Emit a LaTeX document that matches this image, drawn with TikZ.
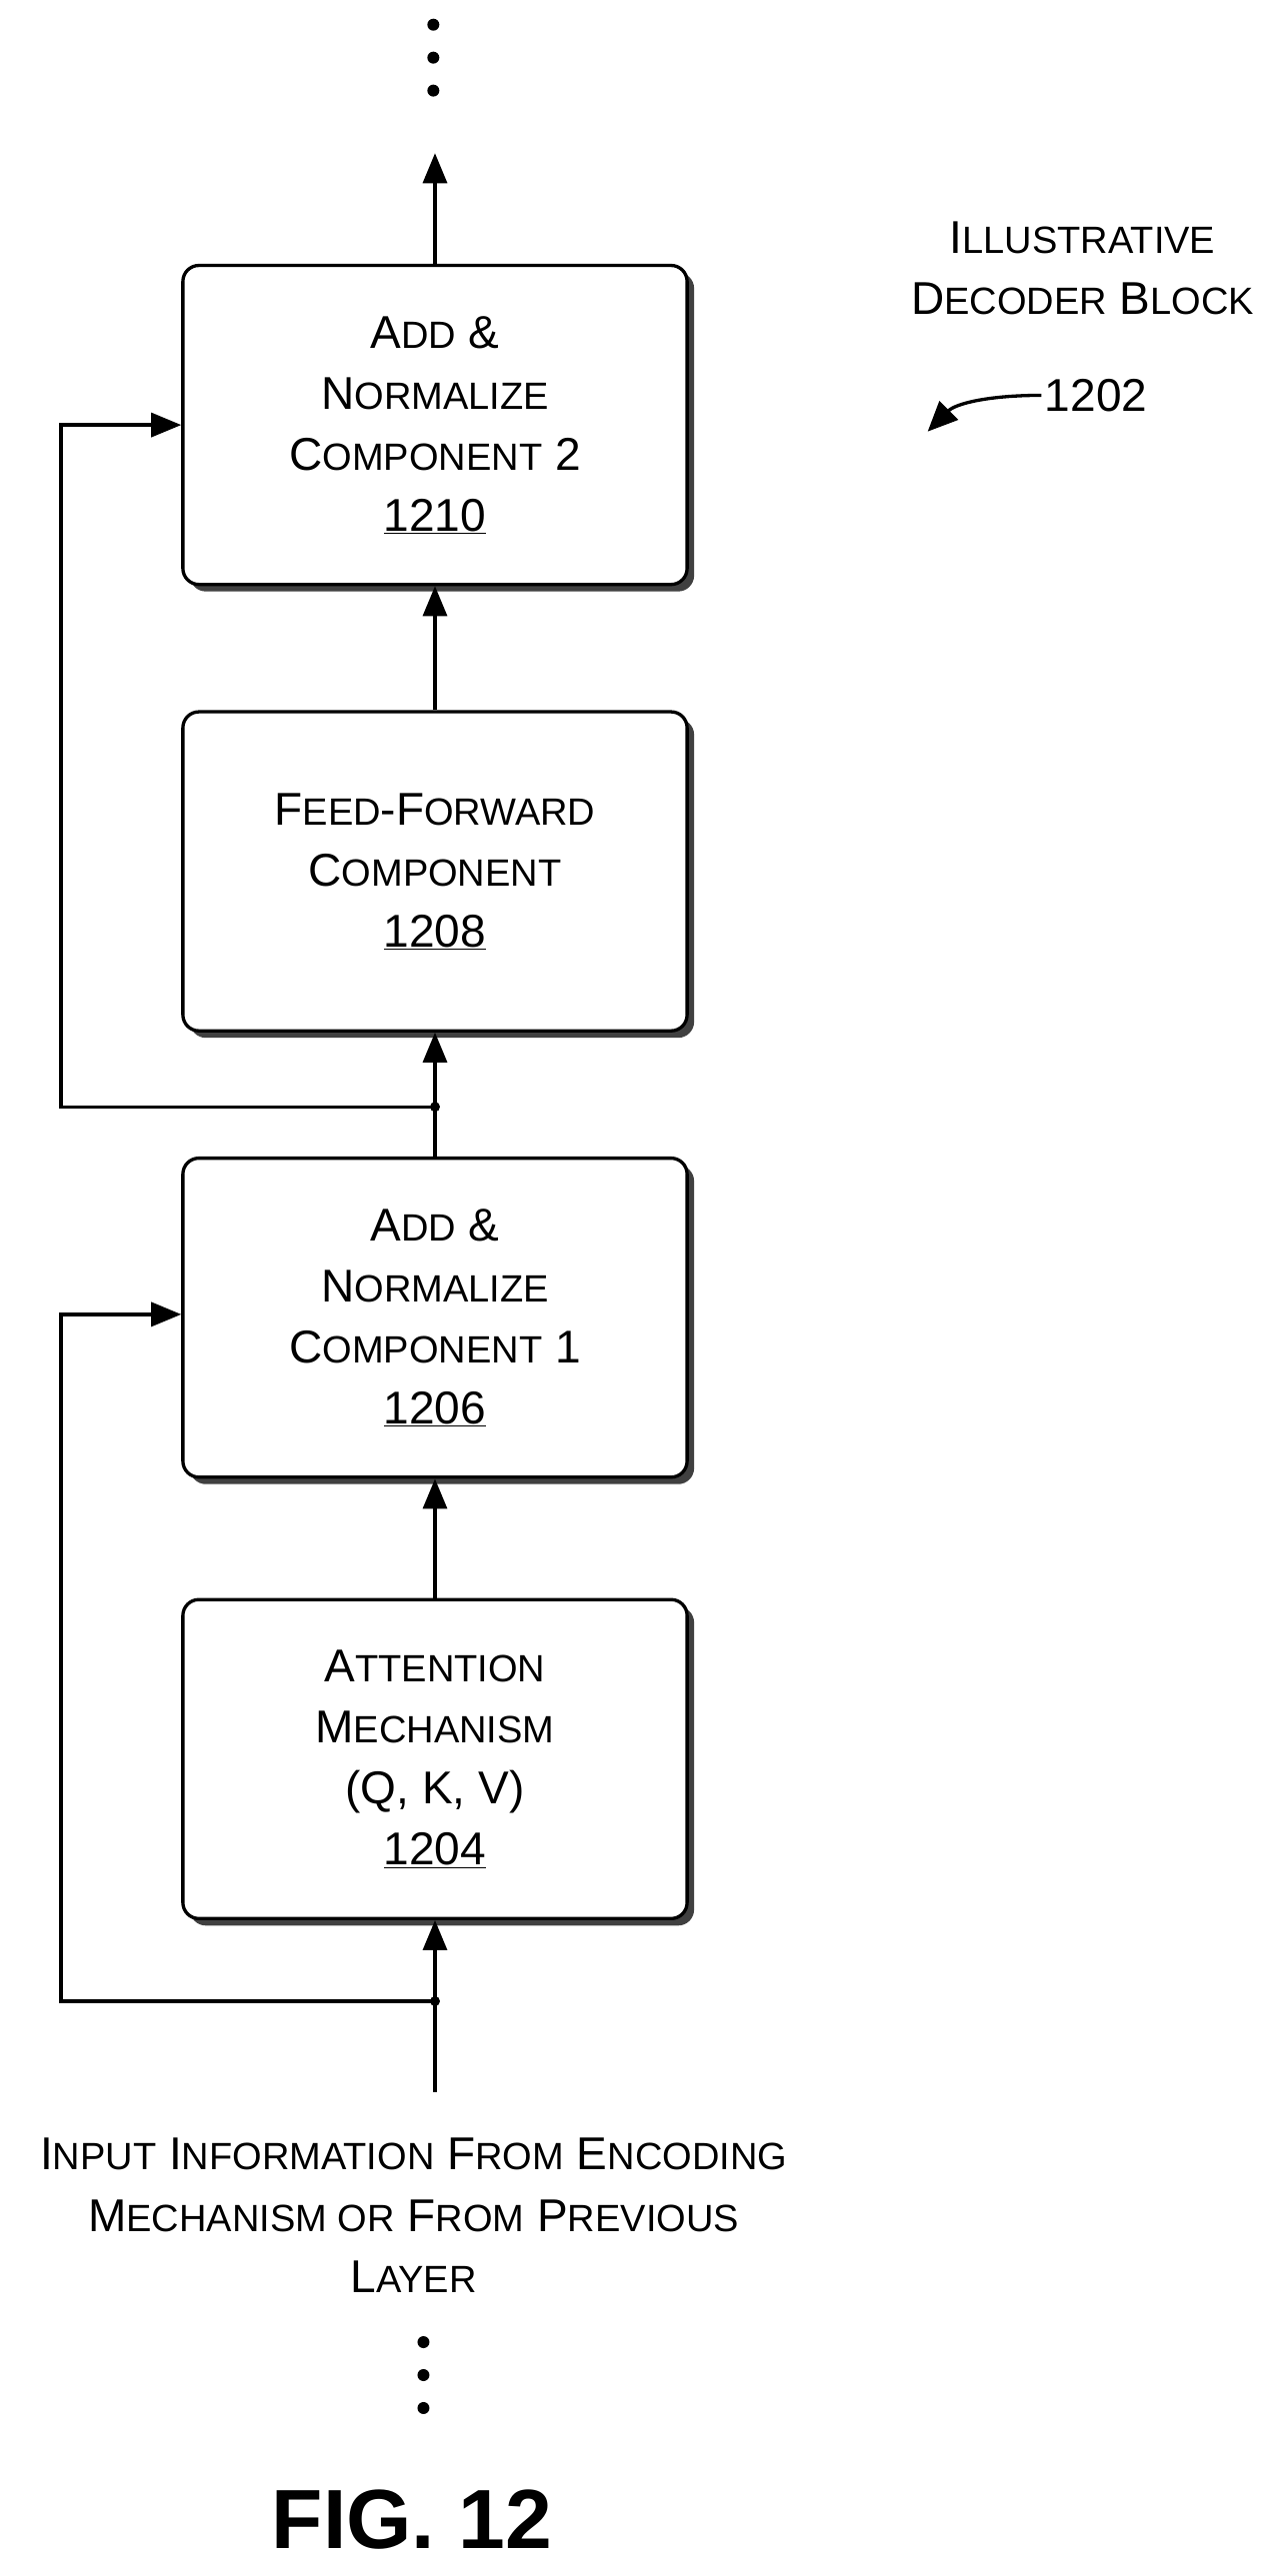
\documentclass[tikz,border=0pt]{standalone}
\usepackage{fontspec}
\setmainfont{Liberation Sans}
\usetikzlibrary{arrows.meta,shadows}
\newcommand\sm[1]{{\fontsize{38}{40}\selectfont #1}}
\begin{document}
\begin{tikzpicture}[x=1.647pt,y=-1.647pt,
  box/.style={draw,line width=3.3pt,rounded corners=16pt,fill=white,minimum width=504pt,minimum height=319pt,
    align=center,font=\fontsize{46}{61}\selectfont,
    drop shadow={shadow xshift=7pt,shadow yshift=-7pt,fill=black!75,opacity=1}},
  ar/.style={line width=3.3pt,-{Triangle[length=30pt,width=24pt]}},
  dot/.style={circle,fill,inner sep=0pt,minimum size=10pt},
  txt/.style={align=center,font=\fontsize{46}{61}\selectfont}]
\useasboundingbox (0,0) rectangle (776,1564);
\node[box] (b1210) at (264,258) {A\sm{DD} \&\\N\sm{ORMALIZE}\\C\sm{OMPONENT} 2\\\underline{1210}};
\node[box] (b1208) at (264,529) {F\sm{EED}-F\sm{ORWARD}\\C\sm{OMPONENT}\\\underline{1208}};
\node[box] (b1206) at (264,800) {A\sm{DD} \&\\N\sm{ORMALIZE}\\C\sm{OMPONENT} 1\\\underline{1206}};
\node[box] (b1204) at (264,1068) {A\sm{TTENTION}\\M\sm{ECHANISM}\\(Q, K, V)\\\underline{1204}};
\coordinate (top) at (264,93);
\coordinate (j1) at (264,672);
\coordinate (j2) at (264,1215);
\coordinate (in) at (264,1270);
\draw[ar] (b1210.north) -- (top);
\draw[ar] (b1208.north) -- (b1210.south);
\draw[ar] (b1206.north) -- (b1208.south);
\draw[ar] (b1204.north) -- (b1206.south);
\draw[ar] (in) -- (b1204.south);
\draw[ar] (j1) -| (37,258) -- (b1210.west|-0,258);
\draw[ar] (j2) -| (37,798) -- (b1206.west|-0,798);
\node[dot] (d1) at (j1) {};
\node[dot] (d2) at (j2) {};
\foreach \y in {15,35,55} \node[dot,minimum size=12pt] at (263,\y) {};
\foreach \y in {1422,1442,1462} \node[dot,minimum size=12pt] at (257,\y) {};
\node[txt] (inp) at (251,1345) {I\sm{NPUT} I\sm{NFORMATION} F\sm{ROM} E\sm{NCODING}\\M\sm{ECHANISM OR} F\sm{ROM} P\sm{REVIOUS}\\L\sm{AYER}};
\node[txt] (ill) at (657,163) {I\sm{LLUSTRATIVE}\\D\sm{ECODER} B\sm{LOCK}};
\node[txt,anchor=west] (n1202) at (632,240) {1202};
\draw[line width=3.3pt,-{Triangle[length=30pt,width=26pt]}] (n1202.west) .. controls (600,240) and (580,245) .. (563,262);
\node[font=\fontsize{84}{90}\selectfont\bfseries] (fig) at (250,1530) {FIG. 12};
\end{tikzpicture}
\end{document}
